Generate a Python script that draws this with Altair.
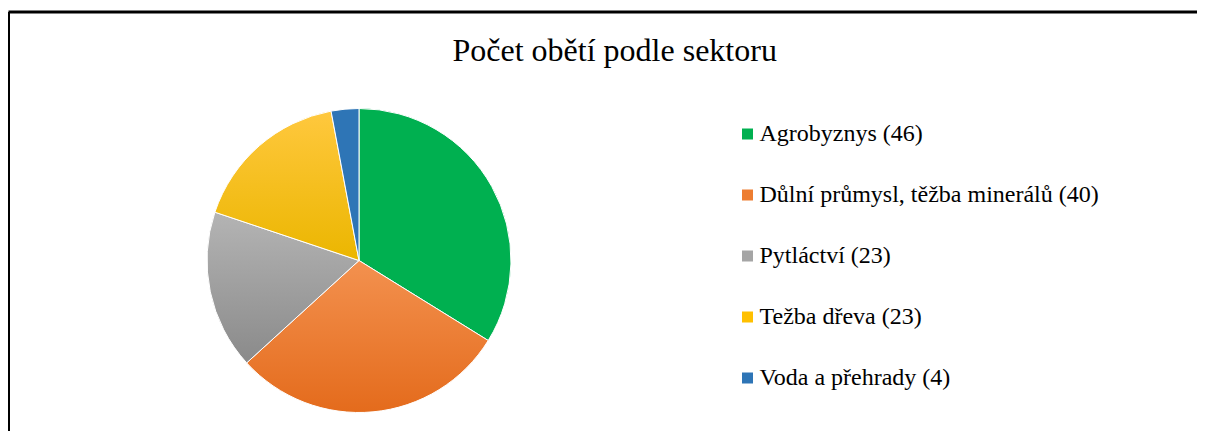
import altair as alt
import pandas as pd

sectors = ["Agrobyznys", "Důlní průmysl, těžba minerálů", "Pytláctví", "Težba dřeva", "Voda a přehrady"]
victims = [46, 40, 23, 23, 4]
base_colors = ["#00B050", "#ED7D31", "#A5A5A5", "#FFC000", "#2E75B6"]
grad_top = ["#00B050", "#F3914F", "#B4B4B4", "#FFC83E", "#2E75B6"]
grad_bottom = ["#00B050", "#E46B1C", "#8A8A8A", "#EBB600", "#2E75B6"]

labels = [f"{s} ({v})" for s, v in zip(sectors, victims)]
df = pd.DataFrame({"label": labels, "value": victims, "idx": list(range(len(sectors)))})

W, H = 1188, 425

conditions = []
for i in range(len(sectors)):
    if grad_top[i] != grad_bottom[i]:
        conditions.append({
            "test": f"datum.idx === {i}",
            "value": {
                "gradient": "linear", "x1": 0, "y1": 0, "x2": 0, "y2": 1,
                "stops": [{"offset": 0, "color": grad_top[i]}, {"offset": 1, "color": grad_bottom[i]}],
            },
        })

pie = alt.Chart(df).mark_arc(
    radius=152, stroke="white", strokeWidth=1
).encode(
    theta=alt.Theta("value:Q", stack=True),
    order=alt.Order("idx:Q"),
    x=alt.value(350.5),
    y=alt.value(248.5),
    color=alt.Color(
        field="label", type="nominal",
        scale=alt.Scale(domain=labels, range=base_colors),
        sort=labels,
        legend=alt.Legend(
            title=None, orient="none", legendX=727, legendY=110,
            labelFont="Liberation Serif", labelFontSize=24, labelColor="black",
            symbolType="square", symbolSize=121, symbolStrokeWidth=0,
            rowPadding=37, labelOffset=0, labelLimit=600,
        ),
        condition=conditions,
    ),
)

frame = pd.DataFrame({"b": [0]})
top_rule = alt.Chart(frame).mark_rule(color="black", strokeWidth=3).encode(
    x=alt.value(0), x2=alt.value(W + 5), y=alt.value(0)
)
left_rule = alt.Chart(frame).mark_rule(color="black", strokeWidth=3).encode(
    x=alt.value(0), y=alt.value(0), y2=alt.value(H + 5)
)

chart = alt.layer(pie, top_rule, left_rule).properties(
    width=W, height=H,
    title=alt.TitleParams(
        "Počet obětí podle sektoru", font="Liberation Serif", fontSize=32,
        fontWeight="normal", color="black", anchor="start", frame="group",
        baseline="alphabetic", offset=-82, dx=444,
    ),
    autosize=alt.AutoSizeParams(type="none"),
    padding={"left": 0.5, "top": 4, "right": 0, "bottom": 0},
).configure(
    font="Liberation Serif"
).configure_view(
    stroke=None
).configure_legend(
    labelFont="Liberation Serif", labelFontSize=24, labelColor="black"
)

chart.save("out.html", embed_options={"renderer": "svg", "actions": False})
